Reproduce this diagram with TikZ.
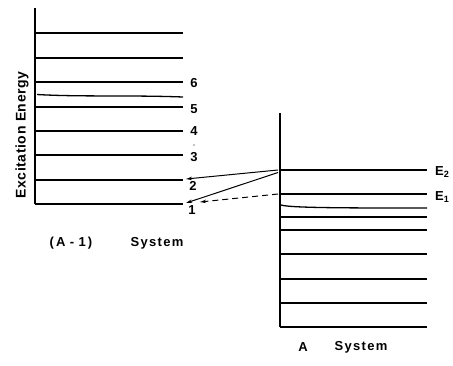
\documentclass[tikz,border=0pt]{standalone}
\usepackage{fontspec}
\setmainfont{Liberation Sans}
\usetikzlibrary{arrows.meta}
\begin{document}
\begin{tikzpicture}[x=1pt,y=-1pt,
  lvl/.style={line width=1.1pt},
  lab/.style={font=\fontsize{13}{13}\selectfont\bfseries, inner sep=0pt},
  captxt/.style={font=\fontsize{13}{13}\selectfont\bfseries\addfontfeature{LetterSpace=10}, inner sep=0pt},
  tr/.style={line width=1pt,-{Stealth[length=6pt,width=3.4pt]}},
  trd/.style={tr, dash pattern=on 6pt off 4pt}]
\useasboundingbox (0,0) rectangle (453,365);
% left system
\coordinate (la) at (35,8);
\coordinate (lb) at (35,204);
\draw[lvl] (la) -- (lb);
\foreach \y/\n in {33/a,58/b,82/c,107/e,131/f,155/g,180/h,204/i}
  \draw[lvl] (35,\y) -- (183,\y) coordinate (L\n);
\draw[lvl, line width=1.3pt] (37,94.5) .. controls (80,97) and (130,95) .. (183,97) coordinate (Ld);
\node[lab] (n6) at (194,83) {6};
\node[lab] (n5) at (194,109) {5};
\node[lab] (n4) at (194,131) {4};
\node[lab] (n3) at (194,157) {3};
\node[lab] (n2) at (193,186) {2};
\node[lab] (n1) at (192,210) {1};
\fill (194,145) circle (0.7pt);
\node[font=\fontsize{14}{14}\selectfont\bfseries\addfontfeature{LetterSpace=4}, inner sep=0pt, rotate=90] (ee) at (22,135) {Excitation Energy};
\node[captxt] (am1) at (71,243) {(\,A\,\,-\,\,1\,)};
\node[captxt] (sys1) at (157,243) {System};
% right system
\coordinate (ra) at (280,113);
\coordinate (rb) at (280,327);
\draw[lvl] (ra) -- (rb);
\foreach \y/\n in {170/a,194/b,217/d,230/e,254/f,279/g,303/h,327/i}
  \draw[lvl] (280,\y) -- (427,\y) coordinate (R\n);
\draw[lvl, line width=1.3pt] (281,205) .. controls (290,208) and (350,208) .. (427,208) coordinate (Rc);
\node[lab, anchor=west] (e2) at (435,172) {E\textsubscript{2}};
\node[lab, anchor=west] (e1) at (435,197) {E\textsubscript{1}};
\node[captxt] (a) at (303,347) {A};
\node[captxt] (sys2) at (361,347) {System};
% transitions
\coordinate (s2a) at (278,170);
\coordinate (s2b) at (278,172.5);
\coordinate (s1) at (278,194);
\coordinate (t2) at (186,179);
\coordinate (t1) at (186,203);
\coordinate (t1d) at (200,202);
\draw[tr] (s2a) -- (t2);
\draw[tr] (s2b) -- (t1);
\draw[trd] (s1) -- (t1d);
\end{tikzpicture}
\end{document}
